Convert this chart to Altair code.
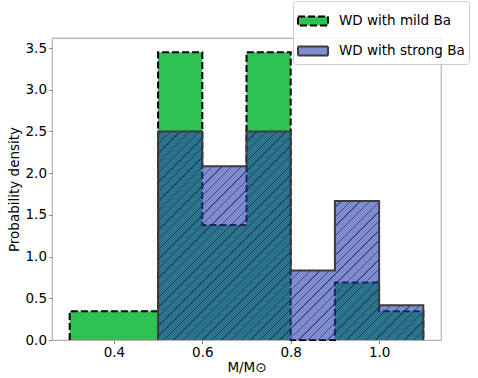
import math
import altair as alt
import pandas as pd

# ---- data ----
series_names = ["WD with mild Ba", "WD with strong Ba"]
mild_edges = [0.3, 0.4, 0.5, 0.6, 0.7, 0.8, 0.9, 1.0, 1.1]
mild_density = [0.345, 0.345, 3.448, 1.379, 3.448, 0.0, 0.690, 0.345]
strong_edges = [0.5, 0.6, 0.7, 0.8, 0.9, 1.0, 1.1]
strong_density = [2.5, 2.083, 2.5, 0.833, 1.667, 0.417]
x_ticks = [0.4, 0.6, 0.8, 1.0]
y_ticks = [0.0, 0.5, 1.0, 1.5, 2.0, 2.5, 3.0, 3.5]

X_DOMAIN = [0.26, 1.14]
Y_DOMAIN = [0.0, 3.62]
PLOT_W, PLOT_H = 389, 302


def outline(name, edges, vals):
    rows = [(edges[0], 0.0)]
    for i, v in enumerate(vals):
        rows.append((edges[i], v))
        rows.append((edges[i + 1], v))
    rows.append((edges[-1], 0.0))
    return [{"series": name, "x": x, "y": y, "i": k} for k, (x, y) in enumerate(rows)]


def steps(name, edges, vals):
    rows = [(edges[i], v) for i, v in enumerate(vals)] + [(edges[-1], vals[-1])]
    return [{"series": name, "x": x, "y": y} for x, y in rows]


line_df = pd.DataFrame(outline(series_names[0], mild_edges, mild_density)
                       + outline(series_names[1], strong_edges, strong_density))
area_df = pd.DataFrame(steps(series_names[0], mild_edges, mild_density)
                       + steps(series_names[1], strong_edges, strong_density))

# ---- hatch gradient for the strong histogram (style only) ----
W = (strong_edges[-1] - strong_edges[0]) / (X_DOMAIN[1] - X_DOMAIN[0]) * PLOT_W
H = max(strong_density) / (Y_DOMAIN[1] - Y_DOMAIN[0]) * PLOT_H
den = W * W + H * H
gx2 = (W + H) * W / den
gy2 = (W + H) * H / den
span = (W + H) / math.sqrt(2)
period = 6.8
lw = 1.0
clear = "rgba(0,0,0,0)"
hatch_col = "rgba(25,30,70,0.55)"
stops = [{"offset": 0.0, "color": clear}]
k = 0
while True:
    c = (k * period + 2.0) / span
    if c - lw / span / 2 >= 1:
        break
    a = max(0.0, c - lw / span / 2)
    b = min(1.0, c + lw / span / 2)
    stops += [{"offset": a, "color": clear}, {"offset": a, "color": hatch_col},
              {"offset": b, "color": hatch_col}, {"offset": b, "color": clear}]
    k += 1
stops.append({"offset": 1.0, "color": clear})
hatch = alt.LinearGradient(gradient="linear", x1=0, y1=0, x2=gx2, y2=gy2, stops=stops)

# ---- encodings ----
FONT = "DejaVu Sans"
leg = alt.Legend(
    title=None, orient="none", legendX=241, legendY=-37,
    symbolType="M-1,-0.3H1V0.3H-1Z", symbolSize=900, symbolStrokeWidth=2,
    labelFont=FONT, labelFontSize=13.5, labelColor="black", labelOffset=10,
    rowPadding=5, padding=4, fillColor="rgba(255,255,255,0.85)",
    strokeColor="#cccccc", cornerRadius=3,
)
fill_enc = alt.Fill("series:N", scale=alt.Scale(domain=series_names,
                    range=["#2dc253", "rgba(42,63,177,0.6)"]), legend=leg)
stroke_enc = alt.Stroke("series:N", scale=alt.Scale(domain=series_names,
                        range=["#000000", "#3c3c3c"]), legend=leg)
dash_enc = alt.StrokeDash("series:N", scale=alt.Scale(domain=series_names,
                          range=[[7, 3], [1, 0]]), legend=leg)

x_enc = alt.X("x:Q", scale=alt.Scale(domain=X_DOMAIN, nice=False, zero=False),
              axis=alt.Axis(values=x_ticks, format=".1f", title="M/M⊙"))
y_enc = alt.Y("y:Q", scale=alt.Scale(domain=Y_DOMAIN, nice=False),
              axis=alt.Axis(values=y_ticks, format=".1f", title="Probability density"))

areas = alt.Chart(area_df)
lines = alt.Chart(line_df)
mild_f = alt.datum.series == series_names[0]
strong_f = alt.datum.series == series_names[1]

green_area = areas.transform_filter(mild_f).mark_area(interpolate="step-after").encode(
    x=x_enc, y=y_enc, fill=fill_enc)
green_line = lines.transform_filter(mild_f).mark_line(strokeWidth=2).encode(
    x=x_enc, y=y_enc, order="i:Q", stroke=stroke_enc, strokeDash=dash_enc)
blue_area = areas.transform_filter(strong_f).mark_area(interpolate="step-after").encode(
    x=x_enc, y=y_enc, fill=fill_enc)
blue_hatch = areas.transform_filter(strong_f).mark_area(
    interpolate="step-after", fill=hatch).encode(x=x_enc, y=y_enc)
blue_line = lines.transform_filter(strong_f).mark_line(strokeWidth=2).encode(
    x=x_enc, y=y_enc, order="i:Q", stroke=stroke_enc, strokeDash=dash_enc)

chart = alt.layer(green_area, green_line, blue_area, blue_hatch, blue_line).properties(
    width=PLOT_W, height=PLOT_H,
    autosize=alt.AutoSizeParams(type="none"),
    padding={"left": 52, "top": 38, "right": 37, "bottom": 38},
).configure_view(
    stroke="#b3b3b3", strokeWidth=1.2
).configure_axis(
    domain=False, grid=False, tickColor="#888888", tickSize=3.5, tickWidth=1,
    labelFont=FONT, labelFontSize=13.5, labelColor="black", labelPadding=2,
    titleFont=FONT, titleFontSize=13.5, titleFontWeight="normal", titleColor="black",
).configure_axisX(titlePadding=1).configure_axisY(titlePadding=4)

chart.save("out.html", embed_options={"renderer": "svg", "actions": False})
